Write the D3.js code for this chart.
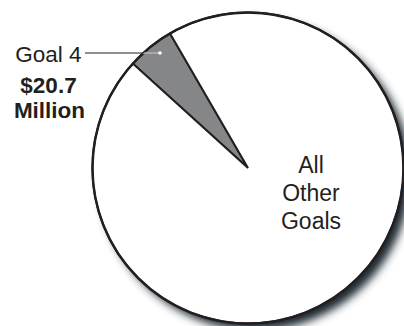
<!DOCTYPE html>
<html>
<head>
<meta charset="utf-8">
<script src="https://cdn.jsdelivr.net/npm/d3@7"></script>
<style>
  html, body { margin: 0; padding: 0; background: #ffffff; }
  svg { display: block; }
</style>
</head>
<body>
<script>
// Spending split: Goal 4 against everything else ($ millions)
const categories = ["Goal 4", "All Other Goals"];
const values = [20.7, 400];
const fills = ["#858688", "#ffffff"];

const width = 404, height = 326;
const cx = 248, cy = 168, radius = 155.5;
const startDeg = -47.8;
const fontFamily = "'Liberation Sans', Arial, Helvetica, sans-serif";

const svg = d3.select("body").append("svg")
  .attr("width", width).attr("height", height);

const defs = svg.append("defs");
const shadow = defs.append("filter").attr("id", "drop")
  .attr("x", "-20%").attr("y", "-20%").attr("width", "140%").attr("height", "140%");
shadow.append("feGaussianBlur").attr("in", "SourceAlpha").attr("stdDeviation", 4.5).attr("result", "b");
shadow.append("feOffset").attr("in", "b").attr("dx", 7).attr("dy", 7).attr("result", "o");
shadow.append("feFlood").attr("flood-color", "#1f2a33").attr("flood-opacity", 1);
shadow.append("feComposite").attr("in2", "o").attr("operator", "in");

const pie = d3.pie().sort(null).value(d => d)
  .startAngle(startDeg * Math.PI / 180)
  .endAngle(startDeg * Math.PI / 180 + 2 * Math.PI);
const arcs = pie(values);
const arc = d3.arc().innerRadius(0).outerRadius(radius);

const g = svg.append("g").attr("transform", `translate(${cx},${cy})`);

// soft shadow under the disc
g.append("circle").attr("r", radius).attr("fill", "#000").attr("filter", "url(#drop)");

g.selectAll("path.slice").data(arcs).join("path")
  .attr("class", "slice")
  .attr("d", arc)
  .attr("fill", (d, i) => fills[i])
  .attr("stroke", "#231f20")
  .attr("stroke-width", 2)
  .attr("stroke-linejoin", "miter");

// outer rim
g.append("circle").attr("r", radius).attr("fill", "none")
  .attr("stroke", "#231f20").attr("stroke-width", 2.4);

// leader from the Goal 4 label into its slice
defs.append("clipPath").attr("id", "sliceClip")
  .append("path").attr("d", arc(arcs[0]))
  .attr("transform", `translate(${cx},${cy})`);

const leaderY = 53, leaderX0 = 85, leaderX1 = 160;
svg.append("line").attr("x1", leaderX0).attr("x2", leaderX1)
  .attr("y1", leaderY).attr("y2", leaderY)
  .attr("stroke", "#231f20").attr("stroke-width", 1.2);
svg.append("line").attr("x1", leaderX0).attr("x2", leaderX1)
  .attr("y1", leaderY).attr("y2", leaderY)
  .attr("stroke", "#ffffff").attr("stroke-width", 1.2)
  .attr("clip-path", "url(#sliceClip)");
svg.append("circle").attr("cx", leaderX1).attr("cy", leaderY).attr("r", 1.8).attr("fill", "#ffffff");

// Goal 4 label
const lab = svg.append("text").attr("text-anchor", "middle").attr("font-size", 22.5)
  .attr("font-family", fontFamily).attr("fill", "#231f20");
lab.append("tspan").attr("x", 48.5).attr("y", 62).text(categories[0]);
lab.append("tspan").attr("x", 48.5).attr("y", 93).attr("font-weight", "bold")
  .text("$" + values[0].toFixed(1));
lab.append("tspan").attr("x", 49.5).attr("y", 118).attr("font-weight", "bold").text("Million");

// label for the large slice
const other = svg.append("text").attr("text-anchor", "middle").attr("font-size", 23)
  .attr("font-family", fontFamily).attr("fill", "#231f20");
["All", "Other", "Goals"].forEach((w, i) => {
  other.append("tspan").attr("x", 311).attr("y", 173 + i * 28).text(w);
});
</script>
</body>
</html>
